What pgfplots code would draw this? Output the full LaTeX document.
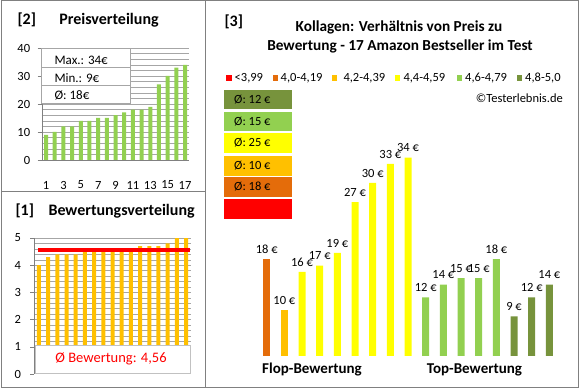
\documentclass[border=0pt]{standalone}
\usepackage{fontspec}
\setmainfont{Carlito}
\usepackage{pgfplots}
\pgfplotsset{compat=1.18}
\definecolor{cDO}{HTML}{E46C0A}
\definecolor{cOR}{HTML}{FFC000}
\definecolor{cYE}{HTML}{FFFF00}
\definecolor{cLG}{HTML}{92D050}
\definecolor{cOL}{HTML}{77933C}
\definecolor{cRE}{HTML}{FF0000}
\definecolor{cFR}{HTML}{808080}
\definecolor{cGR}{HTML}{A6A6A6}
\begin{document}
\begin{tikzpicture}[x=1pt,y=1pt]
\path[use as bounding box] (0pt,0pt) rectangle (580pt,390pt);
% frames
\draw[cFR, line width=1pt] (1.5,2) rectangle (578,389);
\draw[cFR, line width=1pt] (205.5,2) -- (205.5,389);
\draw[cFR, line width=1pt] (1.5,198) -- (205.5,198);

% ---------- [2] Preisverteilung ----------
\node[anchor=west, font=\fontsize{16}{18}\selectfont\bfseries] at (14,370) {[2]};
\node[font=\fontsize{16}{18}\selectfont\bfseries] at (109,370) {Preisverteilung};
\begin{axis}[at={(41.7pt,230pt)}, anchor=south west, scale only axis,
  width=147.7pt, height=112pt,
  xmin=0.5, xmax=17.5, ymin=0, ymax=40,
  axis lines*=left, axis line style={cFR},
  ytick={0,10,...,40}, minor ytick={2,4,6,8,12,14,16,18,22,24,26,28,32,34,36,38},
  ymajorgrids, yminorgrids, grid style={cGR, line width=0.5pt},
  minor grid style={cGR, line width=0.5pt},
  xtick={1,3,...,17}, x tick style={draw=none},
  y tick style={cFR}, tick align=outside, major tick length=4pt, minor tick length=0pt,
  /pgf/number format/assume math mode=true,
  ticklabel style={font=\fontsize{12.5}{14}\selectfont},
  xticklabel style={anchor=center, yshift=-21pt},
  yticklabel style={anchor=east, xshift=-4pt},
]
\addplot[ybar, bar width=4pt, fill=cLG, draw=none] coordinates {
(1,9) (2,10) (3,12) (4,12) (5,14) (6,14) (7,15) (8,15) (9,16) (10,17) (11,18) (12,18) (13,19) (14,27) (15,30) (16,33) (17,34)};
\end{axis}
\draw[cGR, fill=white, line width=0.8pt] (41.7,287) rectangle (130,342);
\draw[cGR, line width=0.8pt] (41.7,323) -- (130,323);
\draw[cGR, line width=0.8pt] (41.7,305) -- (130,305);
\node[anchor=west, font=\fontsize{13}{15}\selectfont] at (51,330) {Max.: 34€};
\node[anchor=west, font=\fontsize{13}{15}\selectfont] at (51,312) {Min.: 9€};
\node[anchor=west, font=\fontsize{13}{15}\selectfont] at (51,294.5) {Ø: 18€};

% ---------- [1] Bewertungsverteilung ----------
\node[anchor=west, font=\fontsize{16}{18}\selectfont\bfseries] at (12,179) {[1]};
\node[anchor=west, font=\fontsize{16}{18}\selectfont\bfseries] at (45,179) {Bewertungsverteilung};
\begin{axis}[at={(34.4pt,16pt)}, anchor=south west, scale only axis,
  width=156.2pt, height=136pt,
  xmin=0.5, xmax=17.5, ymin=0, ymax=5,
  axis y line*=left, axis x line=none, axis line style={cFR},
  ytick={0,1,...,5},
  minor ytick={0.2,0.4,0.6,0.8,1,1.2,1.4,1.6,1.8,2,2.2,2.4,2.6,2.8,3,3.2,3.4,3.6,3.8,4,4.2,4.4,4.6,4.8,5},
  yminorgrids, minor grid style={cGR, line width=0.5pt},
  y tick style={cFR}, tick align=outside, major tick length=4pt, minor tick length=0pt,
  /pgf/number format/assume math mode=true,
  ticklabel style={font=\fontsize{12.5}{14}\selectfont},
  yticklabel style={anchor=east, xshift=-6pt},
]
\addplot[ybar, bar width=4pt, fill=cOR, draw=none] coordinates {
(1,4.0) (2,4.3) (3,4.4) (4,4.4) (5,4.4) (6,4.5) (7,4.5) (8,4.5) (9,4.5) (10,4.6) (11,4.6) (12,4.7) (13,4.7) (14,4.7) (15,4.8) (16,5.0) (17,5.0)};
\addplot[cRE, line width=3.5pt] coordinates {(0.9,4.56) (17.45,4.56)};
\end{axis}
\draw[cGR!70, fill=white, line width=0.8pt] (35,16.5) rectangle (190,45);
\node[text=cRE, font=\fontsize{14.5}{16}\selectfont] at (111,31.5) {Ø Bewertung: 4,56};

% ---------- [3] ----------
\node[anchor=west, font=\fontsize{16}{18}\selectfont\bfseries] at (221,368) {[3]};
\node[font=\fontsize{15.3}{17}\selectfont\bfseries] at (399,363) {Kollagen: Verhältnis von Preis zu};
\node[font=\fontsize{15.3}{17}\selectfont\bfseries] at (400,344) {Bewertung - 17 Amazon Bestseller im Test};
% legend
\fill[cRE] (226,309) rectangle (232,315);
\node[anchor=west, inner sep=0pt, font=\fontsize{12.5}{14}\selectfont] at (234.5,312) {<3,99};
\fill[cDO] (272.7,309) rectangle (277.9,315);
\node[anchor=west, inner sep=0pt, font=\fontsize{12.5}{14}\selectfont] at (280.5,312) {4,0-4,19};
\fill[cOR] (331.7,309) rectangle (336.9,315);
\node[anchor=west, inner sep=0pt, font=\fontsize{12.5}{14}\selectfont] at (343.3,312) {4,2-4,39};
\fill[cYE] (395,309) rectangle (400.2,315);
\node[anchor=west, inner sep=0pt, font=\fontsize{12.5}{14}\selectfont] at (403.3,312) {4,4-4,59};
\fill[cLG] (456.7,309) rectangle (461.9,315);
\node[anchor=west, inner sep=0pt, font=\fontsize{12.5}{14}\selectfont] at (465,312) {4,6-4,79};
\fill[cOL] (516.7,309) rectangle (521.9,315);
\node[anchor=west, inner sep=0pt, font=\fontsize{12.5}{14}\selectfont] at (525,312) {4,8-5,0};
\node[anchor=east, inner sep=0pt, font=\fontsize{12.5}{14}\selectfont] at (563,292) {©Testerlebnis.de};
% average boxes
\fill[cOL] (224,281) rectangle (292,300);
\fill[cLG] (224,259) rectangle (292,278);
\fill[cYE] (224,237) rectangle (292,257);
\fill[cOR] (224,214) rectangle (292,234);
\fill[cDO] (224,193) rectangle (292,213);
\fill[cRE] (224,171) rectangle (292,191);
\node[anchor=west, inner sep=0pt, font=\fontsize{12.5}{14}\selectfont] at (234,290.5) {Ø: 12 €};
\node[anchor=west, inner sep=0pt, font=\fontsize{12.5}{14}\selectfont] at (234,268.5) {Ø: 15 €};
\node[anchor=west, inner sep=0pt, font=\fontsize{12.5}{14}\selectfont] at (234,247) {Ø: 25 €};
\node[anchor=west, inner sep=0pt, font=\fontsize{12.5}{14}\selectfont] at (234,224) {Ø: 10 €};
\node[anchor=west, inner sep=0pt, font=\fontsize{12.5}{14}\selectfont] at (234,203) {Ø: 18 €};

\begin{axis}[at={(249pt,34pt)}, anchor=south west, scale only axis,
  width=318pt, height=236.5pt,
  xmin=0, xmax=18, ymin=2.75, ymax=40, hide axis,
  /pgf/number format/assume math mode=true,
  nodes near coords={\pgfmathprintnumber{\pgfplotspointmeta}~€},
  every node near coord/.append style={font=\fontsize{12.5}{14}\selectfont, text=black, yshift=2pt},
]
\addplot[ybar, bar width=7pt, fill=cDO, draw=none] coordinates {(1,18)};
\addplot[ybar, bar width=7pt, fill=cOR, draw=none] coordinates {(2,10)};
\addplot[ybar, bar width=7pt, fill=cYE, draw=none] coordinates {(3,16) (4,17) (5,19) (6,27) (7,30) (8,33) (9,34)};
\addplot[ybar, bar width=7pt, fill=cLG, draw=none] coordinates {(10,12) (11,14) (12,15) (13,15) (14,18)};
\addplot[ybar, bar width=7pt, fill=cOL, draw=none] coordinates {(15,9) (16,12) (17,14)};
\end{axis}
\node[font=\fontsize{15}{17}\selectfont\bfseries] at (312,20) {Flop-Bewertung};
\node[font=\fontsize{15}{17}\selectfont\bfseries] at (474.5,20) {Top-Bewertung};
\end{tikzpicture}
\end{document}
